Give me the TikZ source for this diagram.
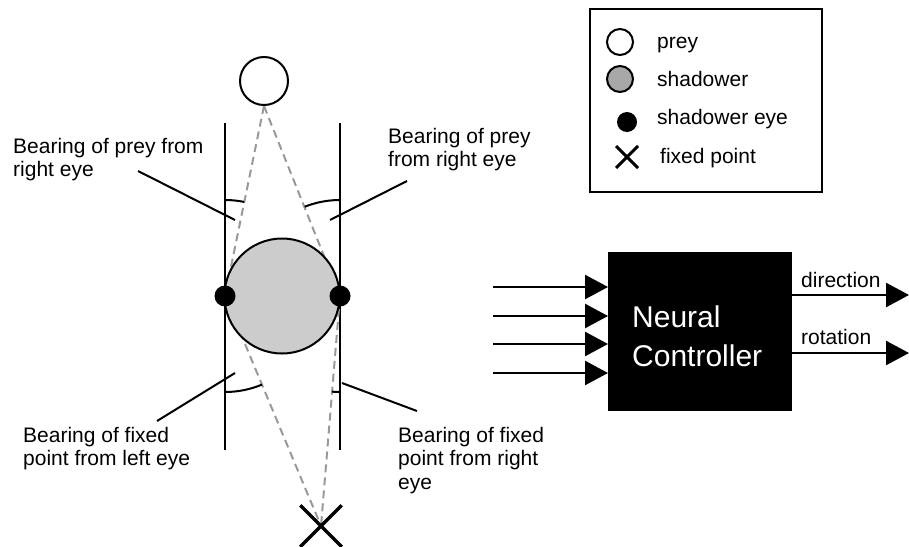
\documentclass[tikz,border=0pt]{standalone}
\usepackage{fontspec}
\setmainfont{Liberation Sans}
\usetikzlibrary{shapes.misc,arrows.meta,backgrounds}
\definecolor{shadowgray}{gray}{0.8}
\definecolor{keygray}{gray}{0.66}
\definecolor{sightgray}{gray}{0.6}
\tikzstyle{body} = [circle, draw, line width=2pt, inner sep=0pt]
\tikzstyle{eye} = [circle, fill=black, inner sep=0pt, minimum size=21pt]
\tikzstyle{fixed} = [cross out, draw, inner sep=0pt]
\tikzstyle{note} = [align=left, anchor=base west, inner sep=0pt, font=\fontsize{21}{23.5}\selectfont]
\tikzstyle{sight} = [draw=sightgray, line width=2pt, dash pattern=on 8pt off 5pt]
\tikzstyle{rail} = [draw, line width=2pt]
\tikzstyle{wire} = [draw, line width=2.5pt, -{Triangle[length=23pt,width=24pt]}]

\begin{document}
\begin{tikzpicture}[x=1pt, y=-1pt]
	\useasboundingbox (0,0) rectangle (909,546);

	% Prey, shadower and its eyes
	\node [body, minimum size=48pt] (prey) at (264,81) {};
	\node [body, fill=shadowgray, minimum size=115pt] (shadower) at (282,296) {};
	\node [eye] (lefteye) at (225,296) {};
	\node [eye] (righteye) at (340,296) {};
	\node [fixed, line width=3.5pt, minimum size=38pt] (fixedpt) at (321,526) {};

	% Heading rails
	\coordinate (leftrail-top) at (225,123);
	\coordinate (leftrail-bot) at (225,450);
	\coordinate (rightrail-top) at (340,123);
	\coordinate (rightrail-bot) at (340,450);

	\begin{scope}[on background layer]
		\path [rail] (leftrail-top) -- (leftrail-bot);
		\path [rail] (rightrail-top) -- (rightrail-bot);
		\path [sight] (prey.south) -- (lefteye.center);
		\path [sight] (prey.south) -- (righteye.center);
		\path [sight] (lefteye.center) -- (fixedpt.center);
		\path [sight] (righteye.center) -- (fixedpt.center);
	\end{scope}

	% Bearing angles
	\draw [line width=2pt] (lefteye.center) ++(0,-96) arc [start angle=270, end angle=281.5, radius=96];
	\draw [line width=2pt] (righteye.center) ++(0,-96) arc [start angle=270, end angle=248.4, radius=96];
	\draw [line width=2pt] (lefteye.center) ++(0,96) arc [start angle=90, end angle=67.3, radius=96];
	\draw [line width=2pt] (righteye.center) ++(0,96) arc [start angle=90, end angle=94.7, radius=96];

	% Bearing labels (placed at the baseline of their last line)
	\node [note] (prey-left) at (13,176.5) {Bearing of prey from\\right eye};
	\node [note] (prey-right) at (388,166.5) {Bearing of prey\\from right eye};
	\node [note] (fixed-left) at (23,465.5) {Bearing of fixed\\point from left eye};
	\node [note] (fixed-right) at (398,489) {Bearing of fixed\\point from right\\eye};

	\coordinate (pl-from) at (138,171);
	\coordinate (pl-to) at (235,220);
	\coordinate (pr-from) at (407,181);
	\coordinate (pr-to) at (330,220);
	\coordinate (fl-from) at (157,421);
	\coordinate (fl-to) at (235,373);
	\coordinate (fr-from) at (417,411);
	\coordinate (fr-to) at (342,383);
	\path [rail] (pl-from) -- (pl-to);
	\path [rail] (pr-from) -- (pr-to);
	\path [rail] (fl-from) -- (fl-to);
	\path [rail] (fr-from) -- (fr-to);

	% Key
	\node [draw, line width=2pt, anchor=north west, minimum width=232pt, minimum height=183pt] (key) at (589,8) {};
	\node [body, minimum size=26pt] (key-prey) at (620,42) {};
	\node [body, fill=keygray, minimum size=26pt] (key-shadower) at (620,79) {};
	\node [eye, minimum size=20pt] (key-eye) at (627,122) {};
	\node [fixed, line width=3pt, minimum size=19pt] (key-fixed) at (627,157) {};
	\node [note] (key-prey-text) at (657,48) {prey};
	\node [note] (key-shadower-text) at (657,86) {shadower};
	\node [note] (key-eye-text) at (657,124) {shadower eye};
	\node [note] (key-fixed-text) at (660,163) {fixed point};

	% Controller
	\node [fill=black, anchor=north west, inner sep=0pt, minimum width=184pt, minimum height=159pt] (controller) at (608,252) {};
	\node [note, text=white, font=\fontsize{30}{39}\selectfont] (controller-text) at (632,366) {Neural\\Controller};
	\foreach \y [count=\i] in {287,316,344,373} {
		\coordinate (in\i) at (493,\y);
		\path [wire] (in\i) -- (in\i -| controller.west);
	}
	\coordinate (direction-out) at (909,295);
	\coordinate (rotation-out) at (909,353);
	\path [wire] (direction-out -| controller.east) -- (direction-out);
	\path [wire] (rotation-out -| controller.east) -- (rotation-out);
	\node [note] (direction) at (801,287) {direction};
	\node [note] (rotation) at (801,344) {rotation};
\end{tikzpicture}
\end{document}
